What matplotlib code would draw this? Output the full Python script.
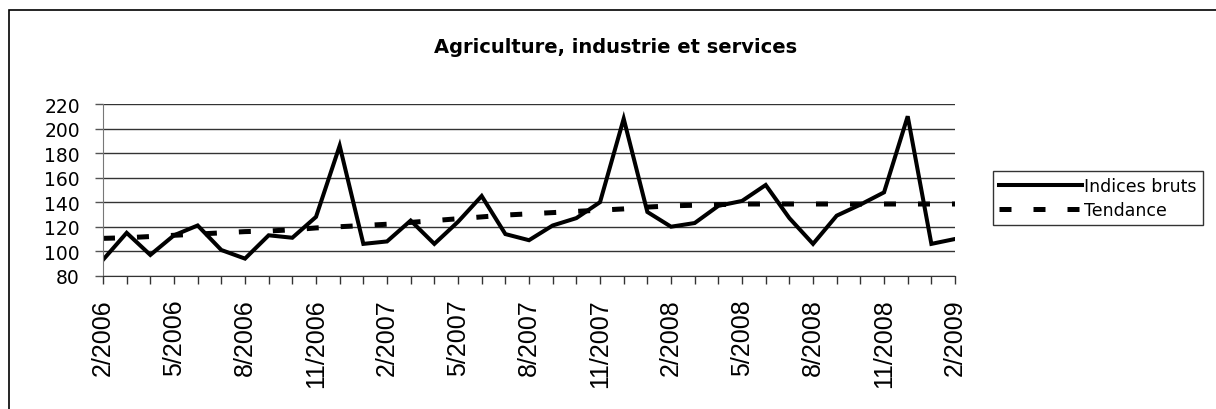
import numpy as np
import matplotlib.pyplot as plt
from matplotlib.patches import Rectangle

plt.rcParams['font.family'] = ['DejaVu Sans']

# monthly data, 2/2006 .. 2/2009
months = [f"{m}/{y}" for y, ms in [(2006, range(2, 13)), (2007, range(1, 13)),
                                   (2008, range(1, 13)), (2009, range(1, 3))]
          for m in ms]
indices_bruts = [93, 115, 97, 113, 121, 101, 94, 113, 111, 128,
                 186, 106, 108, 125, 106, 124, 145, 114, 109, 121,
                 127, 140, 208, 132, 120, 123, 137, 141, 154, 127,
                 106, 129, 138, 148, 210, 106, 110]
tendance = [110.5, 111, 112, 113, 114, 115, 116, 116.5, 117.5, 119,
            120, 121, 122, 123.5, 125, 126.5, 128, 129.5, 130.5, 131.5,
            132.5, 133.5, 134.5, 136, 137, 137.5, 138, 138.5, 138.5, 138.5,
            138.5, 138.5, 138.5, 138.5, 138.5, 138.5, 138.5]
y_ticks = [80, 100, 120, 140, 160, 180, 200, 220]

fig = plt.figure(figsize=(12.16, 4.10), dpi=100)
ax = fig.add_axes((0.0847, 0.3249, 0.7007, 0.419))

x = np.arange(len(months))
ax.plot(x, indices_bruts, color="black", lw=2.9, label="Indices bruts",
        solid_joinstyle="miter")
ax.plot(x, tendance, color="black", lw=3.6, dashes=(2.4, 4.4),
        dash_capstyle="butt", label="Tendance")

ax.set_xlim(0, len(months) - 1)
ax.set_ylim(80, 220)
ax.set_yticks(y_ticks)
ax.set_yticklabels([str(v) for v in y_ticks], fontsize=13.5)
ax.yaxis.grid(True, color="#333333", lw=1)
ax.set_axisbelow(True)

ax.set_xticks(x[::3])
ax.set_xticklabels(months[::3], rotation=90, fontsize=18,
                   family=["Liberation Sans", "DejaVu Sans"])
ax.set_xticks(x, minor=True)
ax.tick_params(axis="x", which="both", direction="out", length=5.8, width=1,
               color="#333333", pad=10.5)
ax.tick_params(axis="y", direction="out", length=5.8, width=1,
               color="#555555", pad=10.8)

for s in ["top", "right"]:
    ax.spines[s].set_visible(False)
ax.spines["left"].set_color("#777777")
ax.spines["bottom"].set_color("#333333")

fig.text(0.506, 0.885, "Agriculture, industrie et services", ha="center",
         va="center", fontsize=14, fontweight="bold")

leg = fig.legend(loc="upper left", bbox_to_anchor=(993 / 1216, 1 - 172 / 410),
                 fontsize=12.5, frameon=True, fancybox=False,
                 handlelength=4.8, handletextpad=0.1, borderpad=0.35,
                 labelspacing=0.35, borderaxespad=0)
leg.get_frame().set_edgecolor("black")
leg.get_frame().set_linewidth(1)

# outer chart border (cropped at right and bottom)
fig.add_artist(Rectangle((9 / 1216, -0.1), 1.2, 1.1 - 11 / 410,
                         transform=fig.transFigure, fill=False,
                         edgecolor="black", lw=1.2))

plt.savefig("out.png", dpi=100)
